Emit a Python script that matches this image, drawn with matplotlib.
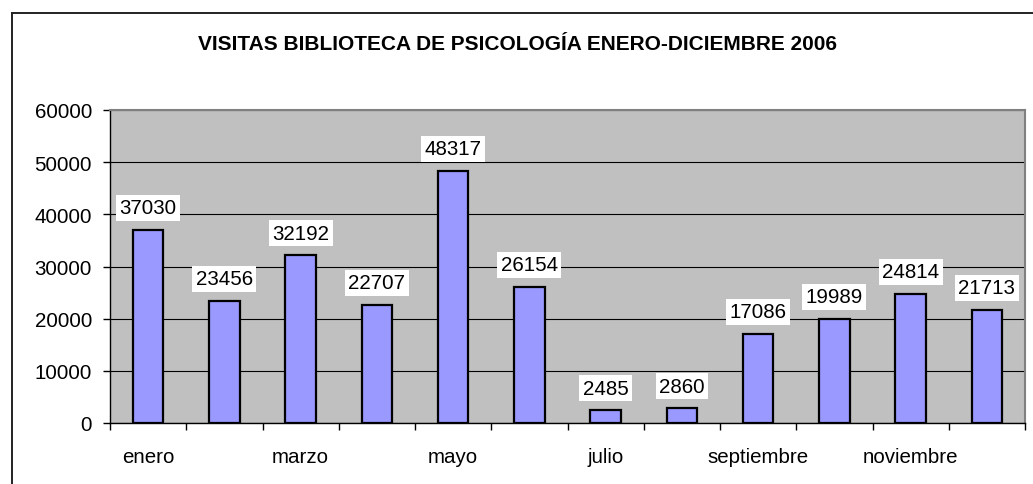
import numpy as np
import matplotlib
matplotlib.use("Agg")
import matplotlib.pyplot as plt
from matplotlib.lines import Line2D

plt.rcParams["font.family"] = ["Liberation Sans", "DejaVu Sans"]

months = ["enero", "febrero", "marzo", "abril", "mayo", "junio", "julio",
          "agosto", "septiembre", "octubre", "noviembre", "diciembre"]
visits = [37030, 23456, 32192, 22707, 48317, 26154, 2485, 2860,
          17086, 19989, 24814, 21713]
y_ticks = [0, 10000, 20000, 30000, 40000, 50000, 60000]

W, H = 1033, 485
fig = plt.figure(figsize=(W / 100, H / 100), dpi=100)

# chart frame (continues beyond the picture on the right and bottom)
fx, fy = 11.5 / W, 1 - 13.5 / H
fig.add_artist(Line2D([fx, 1.01], [fy, fy], transform=fig.transFigure,
                      color="#222222", linewidth=1.4))
fig.add_artist(Line2D([fx, fx], [-0.01, fy], transform=fig.transFigure,
                      color="#222222", linewidth=1.4))

ax = fig.add_axes([110 / W, 1 - 424 / H, 915 / W, 313 / H])
ax.set_facecolor("#C0C0C0")
x = np.arange(len(months))
ax.bar(x, visits, width=0.4, color="#9999FF", edgecolor="black",
       linewidth=1.6, zorder=3)

for xi, v in zip(x, visits):
    ax.annotate(str(v), (xi, v), xytext=(0, 9), textcoords="offset points",
                ha="center", va="bottom", fontsize=14.8, zorder=4,
                bbox=dict(facecolor="white", edgecolor="none", pad=2.5))

ax.set_xlim(-0.5, 11.5)
ax.set_ylim(0, 60000)
ax.set_yticks(y_ticks)
ax.yaxis.grid(True, color="black", linewidth=0.8, zorder=1)
ax.set_axisbelow(True)

ax.set_xticks(x)
ax.set_xticklabels([m if i % 2 == 0 else "" for i, m in enumerate(months)])
ax.set_xticks(np.arange(-0.5, 12, 1), minor=True)
ax.tick_params(axis="x", which="major", length=0, pad=17, labelsize=14.8)
ax.tick_params(axis="x", which="minor", length=5, width=1, direction="out")
ax.tick_params(axis="y", length=5, width=1, pad=8, labelsize=14.8)

for side in ["top", "right"]:
    ax.spines[side].set_color("#808080")
    ax.spines[side].set_linewidth(1.5)
for side in ["left", "bottom"]:
    ax.spines[side].set_color("black")
    ax.spines[side].set_linewidth(1)

fig.text(518 / W, 1 - 45 / H, "VISITAS BIBLIOTECA DE PSICOLOGÍA ENERO-DICIEMBRE 2006",
         ha="center", va="center", fontsize=15, fontweight="bold")

fig.savefig("out.png", dpi=100)
